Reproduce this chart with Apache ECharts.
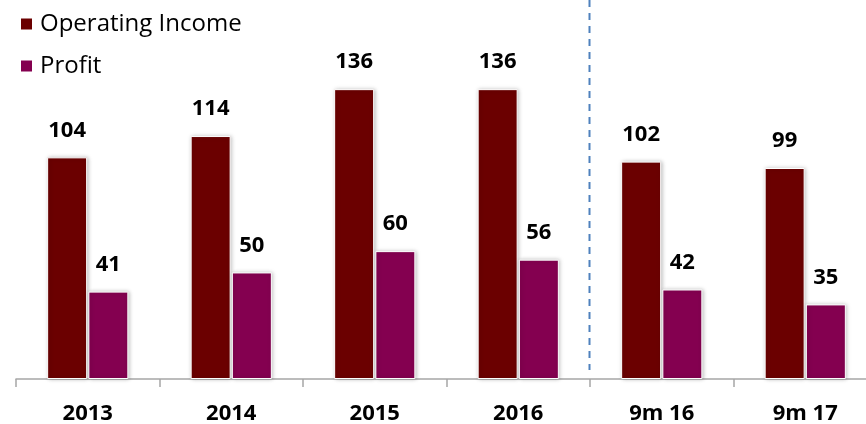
<!DOCTYPE html>
<html>
<head>
<meta charset="utf-8">
<script src="https://cdn.jsdelivr.net/npm/echarts@6/dist/echarts.min.js"></script>
<style>
  html, body { margin: 0; padding: 0; background: #fff; }
  #main { width: 866px; height: 424px; }
</style>
</head>
<body>
<div id="main"></div>
<script>
// 数据
const categories = ['2013', '2014', '2015', '2016', '9m 16', '9m 17'];
const operatingIncome = [104, 114, 136, 136, 102, 99];
const profit = [41, 50, 60, 56, 42, 35];

const FONT = '"Open Sans", "Liberation Sans", sans-serif';

const chart = echarts.init(document.getElementById('main'), null, { renderer: 'canvas' });

function barSeries(name, data, color) {
  return {
    name: name,
    type: 'bar',
    data: data,
    barWidth: 40,
    barGap: '3%',
    itemStyle: {
      color: color,
      borderColor: '#fff',
      borderWidth: 1,
      shadowBlur: 4,
      shadowColor: 'rgba(0,0,0,0.25)',
      shadowOffsetX: 1
    },
    label: {
      show: true,
      position: 'top',
      distance: 16,
      color: '#000',
      fontFamily: FONT,
      fontWeight: 'bold',
      fontSize: 22
    }
  };
}

chart.setOption({
  animation: false,
  legend: {
    orient: 'vertical',
    left: 19,
    top: 12,
    padding: 0,
    itemWidth: 13,
    itemHeight: 13,
    itemGap: 18,
    icon: 'rect',
    textStyle: {
      fontFamily: FONT,
      fontSize: 24,
      color: '#000',
      padding: [0, 0, 0, 2]
    },
    data: ['Operating Income', 'Profit']
  },
  grid: {
    left: 16,
    width: 861,
    top: 38,
    bottom: 45,
    containLabel: false,
    outerBoundsMode: 'none'
  },
  xAxis: {
    type: 'category',
    data: categories,
    axisLine: { lineStyle: { color: '#a6a6a6', width: 1.5 } },
    axisTick: { show: true, length: 8, lineStyle: { color: '#a6a6a6', width: 1.5 } },
    axisLabel: {
      color: '#000',
      fontFamily: FONT,
      fontWeight: 'bold',
      fontSize: 22,
      margin: 24
    }
  },
  yAxis: {
    type: 'value',
    min: 0,
    max: 160,
    show: false
  },
  series: [
    barSeries('Operating Income', operatingIncome, '#6b0000'),
    barSeries('Profit', profit, '#840050')
  ]
});

// 2016 与 9m 16 之间的分隔虚线
const x1 = chart.convertToPixel({ xAxisIndex: 0 }, categories[3]);
const x2 = chart.convertToPixel({ xAxisIndex: 0 }, categories[4]);
const sepX = Math.round((x1 + x2) / 2) - 0.5;
chart.setOption({
  graphic: [{
    type: 'line',
    shape: { x1: sepX, y1: 0, x2: sepX, y2: 370 },
    style: { stroke: '#4f81bd', lineWidth: 2, lineDash: [7, 6] },
    silent: true
  }]
});
</script>
</body>
</html>
